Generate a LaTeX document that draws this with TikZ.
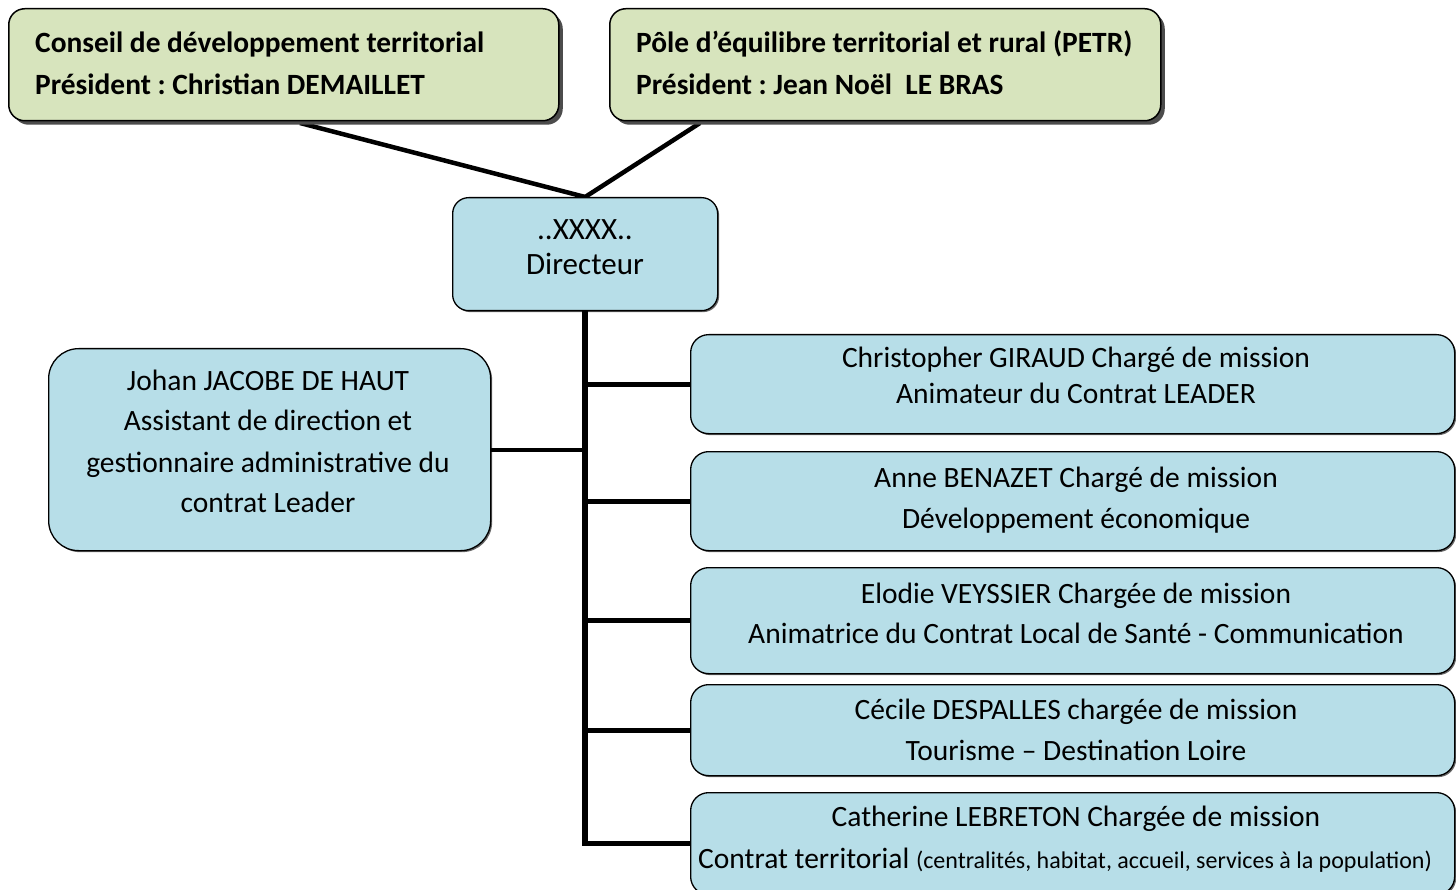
\documentclass[tikz,border=0pt]{standalone}
\usepackage{fontspec}
\setmainfont{Carlito}
\frenchspacing
\usetikzlibrary{shadows,backgrounds}
\definecolor{greenfill}{HTML}{D7E4BD}
\definecolor{bluefill}{HTML}{B7DEE8}
\begin{document}
\frenchspacing
\begin{tikzpicture}[x=1pt,y=-1pt,
  gbox/.style={draw=black, line width=1.5pt, fill=greenfill, rounded corners=16pt,
    anchor=north west, inner sep=0pt,
    drop shadow={shadow xshift=4pt, shadow yshift=-4pt, fill=black!70, opacity=1}},
  bbox/.style={draw=black, line width=1.3pt, fill=bluefill, rounded corners=#1,
    anchor=north west, inner sep=0pt,
    drop shadow={shadow xshift=1.5pt, shadow yshift=-1.5pt, fill=black!60, opacity=1}},
  bbox/.default=18pt,
  txt/.style={font=\fontsize{29.5}{34}\selectfont, inner sep=0pt, anchor=base},
  btxt/.style={font=\fontsize{29.4}{34}\selectfont\bfseries, inner sep=0pt, anchor=base west},
  conn/.style={draw=black, line width=4.5pt},
  trunk/.style={draw=black, line width=5.5pt, line join=miter},
]
\useasboundingbox (0,0) rectangle (1456,890);

% top boxes
\node[gbox, minimum width=550pt, minimum height=112pt] (c1) at (8,8) {};
\node[gbox, minimum width=551pt, minimum height=112pt] (c2) at (609,8) {};
\node[btxt] (c1a) at (35,53) {Conseil de développement territorial};
\node[btxt] (c1b) at (35,95) {Président : Christian DEMAILLET};
\node[btxt] (c2a) at (636,53) {Pôle d’équilibre territorial et rural (PETR)};
\node[btxt] (c2b) at (636,95) {Président : Jean Noël\ \ LE BRAS};

% director
\node[bbox=16pt, minimum width=265pt, minimum height=113pt] (dir) at (452,197) {};
\node[txt, font=\fontsize{31}{36}\selectfont] (d1) at (585,240) {..XXXX..};
\node[txt, font=\fontsize{31}{36}\selectfont] (d2) at (585,275) {Directeur};

% left box
\node[bbox=30pt, minimum width=442pt, minimum height=202pt] (left) at (48,348) {};
\node[txt] (l1) at (268,390) {Johan JACOBE DE HAUT};
\node[txt] (l2) at (268,430) {Assistant de direction et};
\node[txt] (l3) at (268,472) {gestionnaire administrative du};
\node[txt] (l4) at (268,512) {contrat Leader};

% right boxes
\node[bbox, minimum width=764pt, minimum height=99pt] (r1) at (690,334) {};
\node[bbox, minimum width=764pt, minimum height=99pt] (r2) at (690,451) {};
\node[bbox, minimum width=764pt, minimum height=106pt] (r3) at (690,567) {};
\node[bbox, minimum width=764pt, minimum height=91pt] (r4) at (690,684) {};
\node[bbox, minimum width=764pt, minimum height=102pt] (r5) at (690,792) {};

\node[txt] (r1a) at (1076,367) {Christopher GIRAUD Chargé de mission};
\node[txt] (r1b) at (1076,403) {Animateur du Contrat LEADER};
\node[txt] (r2a) at (1076,487) {Anne BENAZET Chargé de mission};
\node[txt] (r2b) at (1076,528) {Développement économique};
\node[txt] (r3a) at (1076,603) {Elodie VEYSSIER Chargée de mission};
\node[txt] (r3b) at (1076,643) {Animatrice du Contrat Local de Santé - Communication};
\node[txt] (r4a) at (1076,719) {Cécile DESPALLES chargée de mission};
\node[txt] (r4b) at (1076,760) {Tourisme – Destination Loire};
\node[txt] (r5a) at (1076,826) {Catherine LEBRETON Chargée de mission};
\node[txt, anchor=base west] (r5b) at (698,868) {Contrat territorial {\fontsize{24}{28}\selectfont (centralités, habitat, accueil, services à la population)}};

% connectors
\coordinate (j1) at (300,123);
\coordinate (j2) at (700,123);
\begin{pgfonlayer}{background}
\draw[conn] (j1) -- (dir.north);
\draw[conn] (j2) -- (dir.north);
\end{pgfonlayer}
\draw[trunk] (dir.south) -- (dir.south |- r5.west) -- (r5.west);
\draw[line width=5pt] (dir.south |- r1.west) -- (r1.west);
\draw[line width=5pt] (dir.south |- r2.west) -- (r2.west);
\draw[line width=5pt] (dir.south |- r3.west) -- (r3.west);
\draw[line width=5pt] (dir.south |- r4.west) -- (r4.west);
\draw[line width=4pt] (left.east) -- (left.east -| dir.south);
\end{tikzpicture}
\end{document}
